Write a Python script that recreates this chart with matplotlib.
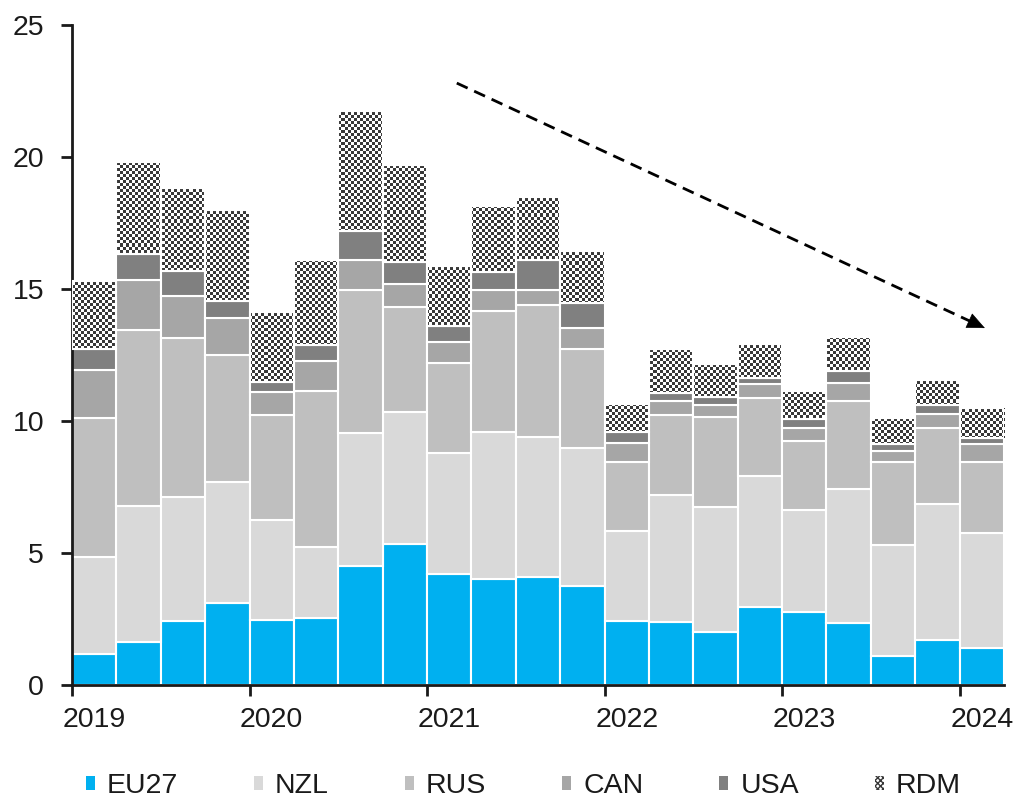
import numpy as np
import matplotlib
import matplotlib.pyplot as plt
from matplotlib.patches import Patch
from matplotlib.colors import ListedColormap

matplotlib.use("Agg")

plt.rcParams["font.family"] = ["Liberation Sans", "DejaVu Sans"]

# Quarterly values, 2019 Q1 .. 2024 Q1
years = ["2019", "2020", "2021", "2022", "2023", "2024"]
eu27 = [1.16, 1.62, 2.44, 3.09, 2.48, 2.53, 4.49, 5.34, 4.21, 4.01, 4.08,
        3.74, 2.43, 2.38, 1.99, 2.96, 2.77, 2.36, 1.09, 1.71, 1.41]
nzl = [3.68, 5.15, 4.68, 4.59, 3.78, 2.71, 5.05, 5.01, 4.56, 5.58, 5.33,
       5.24, 3.39, 4.81, 4.77, 4.97, 3.87, 5.07, 4.23, 5.15, 4.33]
rus = [5.26, 6.68, 6.01, 4.82, 3.95, 5.89, 5.44, 3.96, 3.44, 4.57, 4.97,
       3.76, 2.64, 3.02, 3.40, 2.95, 2.59, 3.33, 3.11, 2.89, 2.71]
can = [1.82, 1.88, 1.62, 1.42, 0.90, 1.15, 1.13, 0.88, 0.77, 0.79, 0.57,
       0.78, 0.70, 0.55, 0.43, 0.54, 0.51, 0.69, 0.45, 0.53, 0.68]
usa = [0.80, 0.98, 0.92, 0.63, 0.36, 0.61, 1.10, 0.83, 0.61, 0.71, 1.14,
       0.96, 0.44, 0.31, 0.33, 0.19, 0.34, 0.43, 0.26, 0.31, 0.24]
rdm = [2.59, 3.49, 3.17, 3.44, 2.64, 3.20, 4.54, 3.68, 2.29, 2.50, 2.41,
       1.97, 1.06, 1.64, 1.24, 1.31, 1.04, 1.31, 0.97, 0.96, 1.14]

labels = ["EU27", "NZL", "RUS", "CAN", "USA", "RDM"]
colors = ["#00B0F0", "#D9D9D9", "#BFBFBF", "#A6A6A6", "#808080"]
dark = "#383838"
text_color = "#1a1a1a"
fs = 20.5

# trend arrow (data coords)
trend_start = (8.67, 22.8)
trend_end = (20.57, 13.52)

fig = plt.figure(figsize=(10.17, 7.99), dpi=100)
ax = fig.add_axes([72 / 1017, 1 - 685 / 799, 932 / 1017, 660 / 799])

n = len(eu27)
x = np.arange(n) + 0.5
bottom = np.zeros(n)
for vals, color in zip([eu27, nzl, rus, can, usa], colors):
    ax.bar(x, vals, width=1.0, bottom=bottom, color=color,
           edgecolor="white", linewidth=1.5, zorder=2)
    bottom += np.array(vals)

# RDM: checkerboard texture clipped to each bar
rdm_bars = ax.bar(x, rdm, width=1.0, bottom=bottom, facecolor="none",
                  edgecolor="white", linewidth=1.5, zorder=4)
checker = np.indices((220, 311)).sum(axis=0) % 2
cmap = ListedColormap(["white", dark])
for bar in rdm_bars:
    im = ax.imshow(checker, cmap=cmap, extent=(0, 21, 0, 25), aspect="auto",
                   interpolation="nearest", zorder=3)
    im.set_clip_path(bar)

# dashed trend arrow
dx = trend_end[0] - trend_start[0]
dy = trend_end[1] - trend_start[1]
ax.plot([trend_start[0], trend_end[0] - 0.015 * dx],
        [trend_start[1], trend_end[1] - 0.015 * dy],
        color="black", linewidth=2, linestyle=(0, (4.3, 2.6)), zorder=5)
ax.annotate("", xy=trend_end,
            xytext=(trend_end[0] - 0.02 * dx, trend_end[1] - 0.02 * dy),
            arrowprops=dict(arrowstyle="-|>,head_length=0.85,head_width=0.38",
                            color="black", lw=0.5, mutation_scale=14,
                            shrinkA=0, shrinkB=0), zorder=6)

ax.set_xlim(0, 21)
ax.set_ylim(0, 25)

for side in ["top", "right"]:
    ax.spines[side].set_visible(False)
for side in ["left", "bottom"]:
    ax.spines[side].set_linewidth(2)
    ax.spines[side].set_color(text_color)

ax.set_yticks(np.arange(0, 26, 5))
ax.tick_params(axis="y", which="major", length=8, width=2, direction="out",
               labelsize=fs, pad=12, colors=text_color)

ax.set_xticks(np.arange(0, 21, 4))
ax.set_xticklabels([])
ax.set_xticks(np.arange(0, 21, 4) + 0.5, minor=True)
ax.set_xticklabels(years, minor=True)
ax.tick_params(axis="x", which="major", length=8, width=2, direction="out",
               colors=text_color)
ax.tick_params(axis="x", which="minor", length=0, labelsize=fs, pad=16,
               colors=text_color)

handles = [Patch(facecolor=c, edgecolor="none") for c in colors]
handles.append(Patch(facecolor="white", edgecolor=dark, hatch="xxxxxx",
                     linewidth=0))
fig.legend(handles, labels, loc="center", bbox_to_anchor=(0.5147, 0.016),
           ncol=6, frameon=False, fontsize=fs, handlelength=0.316,
           handleheight=0.34, handletextpad=0.42, columnspacing=2.67,
           borderaxespad=0, borderpad=0, labelcolor=text_color)

fig.savefig("out.png", dpi=100)
plt.close(fig)
